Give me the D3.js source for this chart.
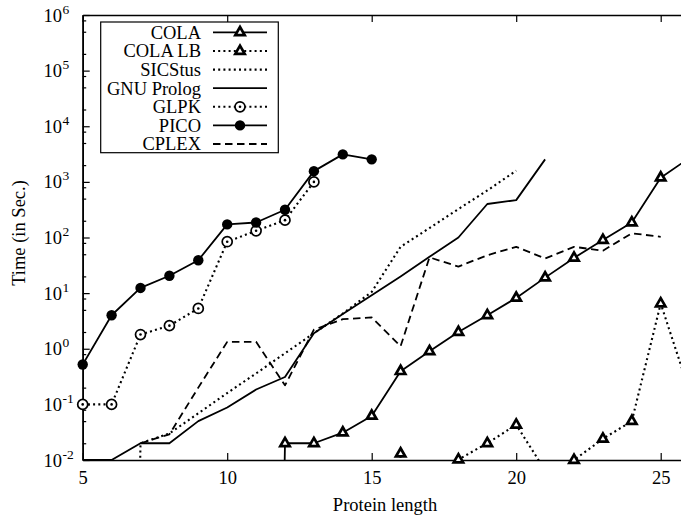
<!DOCTYPE html>
<html>
<head>
<meta charset="utf-8">
<script src="https://cdn.jsdelivr.net/npm/d3@7"></script>
<style>
  body { margin: 0; background: #fff; }
  text { font-family: "Liberation Serif", "Times New Roman", serif; fill: #000; }
</style>
</head>
<body>
<div id="graph"></div>
<script>

// data (0 = below the 0.01 floor)
var colaX      = [11, 12, 13, 14, 15, 16, 17, 18, 19, 20, 21, 22, 23, 24, 25, 26];
var colaY      = [0, 0.020, 0.020, 0.031, 0.062, 0.395, 0.9, 2.0, 4.0, 8.2, 19, 43, 90, 186, 1190, 2700];
var colaLbX    = [15, 16, 17, 18, 19, 20, 21, 22, 23, 24, 25, 26];
var colaLbY    = [0, 0.013, 0, 0.0102, 0.020, 0.043, 0.0065, 0.010, 0.024, 0.050, 6.5, 0.17];
var sicstusX   = [6, 7, 8, 9, 10, 11, 12, 13, 14, 15, 16, 17, 18, 19, 20];
var sicstusY   = [0, 0.02, 0.03, 0.069, 0.16, 0.36, 0.83, 1.9, 4.3, 10.5, 68, 148, 325, 700, 1590];
var gnuX       = [5, 6, 7, 8, 9, 10, 11, 12, 13, 14, 15, 16, 17, 18, 19, 20, 21];
var gnuY       = [0.01, 0.01, 0.02, 0.02, 0.05, 0.088, 0.185, 0.31, 1.9, 4.2, 9.2, 20, 45, 100, 400, 470, 2540];
var glpkX      = [5, 6, 7, 8, 9, 10, 11, 12, 13];
var glpkY      = [0.1, 0.1, 1.8, 2.6, 5.3, 84, 132, 205, 1000];
var picoX      = [5, 6, 7, 8, 9, 10, 11, 12, 13, 14, 15];
var picoY      = [0.52, 4.0, 12.4, 20.5, 39, 172, 186, 315, 1560, 3120, 2540];
var cplexX     = [7, 8, 9, 10, 11, 12, 13, 14, 15, 16, 17, 18, 19, 20, 21, 22, 23, 24, 25];
var cplexY     = [0.02, 0.029, 0.2, 1.33, 1.33, 0.22, 2.2, 3.4, 3.66, 1.11, 44, 30, 48, 68, 42, 68, 58, 119, 103];

var xTicks = [5, 10, 15, 20, 25];
var yExps  = [-2, -1, 0, 1, 2, 3, 4, 5, 6];
var yMinorMult = [2, 5, 8];

var width = 681, height = 518;
var pLeft = 82.7, pRight = 689.6, pTop = 15, pBottom = 460;

var x = d3.scaleLinear().domain([5, 26]).range([pLeft, pRight]);
var y = d3.scaleLog().domain([0.01, 1e6]).range([pBottom, pTop]);

var DOT = '2,3.2';

var series = [
  { name: 'COLA',       xs: colaX,    ys: colaY,    dash: null,      mark: 'tri' },
  { name: 'COLA LB',    xs: colaLbX,  ys: colaLbY,  dash: DOT,       mark: 'tri' },
  { name: 'SICStus',    xs: sicstusX, ys: sicstusY, dash: DOT,       mark: null },
  { name: 'GNU Prolog', xs: gnuX,     ys: gnuY,     dash: null,      mark: null },
  { name: 'GLPK',       xs: glpkX,    ys: glpkY,    dash: DOT,       mark: 'odot' },
  { name: 'PICO',       xs: picoX,    ys: picoY,    dash: null,      mark: 'dot' },
  { name: 'CPLEX',      xs: cplexX,   ys: cplexY,   dash: '7.5,4.5', mark: null }
];

var svg = d3.select('#graph').append('svg')
    .attr('width', width)
    .attr('height', height);

svg.append('defs').append('clipPath').attr('id', 'plotclip')
  .append('rect')
    .attr('x', pLeft).attr('y', pTop)
    .attr('width', pRight - pLeft).attr('height', pBottom - pTop);

// axes (ticks point inward)
var gx = svg.append('g')
    .attr('transform', 'translate(0,' + pBottom + ')')
    .call(d3.axisBottom(x).tickValues(xTicks).tickSize(-7).tickSizeOuter(0).tickPadding(11));
svg.append('g')
    .attr('transform', 'translate(0,' + pTop + ')')
    .call(d3.axisTop(x).tickValues(xTicks).tickSize(-7).tickSizeOuter(0).tickFormat(''));

var majors = yExps.map(function(e){ return Math.pow(10, e); });
var minors = [];
yExps.slice(0, -1).forEach(function(e){
  yMinorMult.forEach(function(m){ minors.push(m * Math.pow(10, e)); });
});

svg.append('g')
    .attr('transform', 'translate(' + pLeft + ',0)')
    .call(d3.axisLeft(y).tickValues(minors).tickSize(-3.5).tickSizeOuter(0).tickFormat(''));
svg.append('g')
    .attr('transform', 'translate(' + pLeft + ',0)')
    .call(d3.axisLeft(y).tickValues(majors).tickSize(-7).tickSizeOuter(0).tickFormat(''));

svg.selectAll('.domain').attr('stroke', '#000').attr('stroke-width', 1.6);
svg.selectAll('.tick line').attr('stroke', '#000').attr('stroke-width', 1.2);

gx.selectAll('.tick text')
    .style('font-family', '"Liberation Serif", serif')
    .style('font-size', '18.5px')
    .attr('fill', '#000');

// y labels as 10^n
yExps.forEach(function(e){
  var yy = y(Math.pow(10, e));
  svg.append('text')
      .attr('x', 62).attr('y', yy + 6.5)
      .attr('text-anchor', 'end')
      .style('font-size', '18.5px')
      .text('10');
  svg.append('text')
      .attr('x', 62.5).attr('y', yy - 1.5)
      .style('font-size', '13.5px')
      .text(String(e));
});

// axis titles
svg.append('text')
    .attr('x', 385).attr('y', 511)
    .attr('text-anchor', 'middle')
    .style('font-size', '18.5px')
    .text('Protein length');
svg.append('text')
    .attr('transform', 'translate(25,233) rotate(-90)')
    .attr('text-anchor', 'middle')
    .style('font-size', '18.5px')
    .text('Time (in Sec.)');

// lines
var line = d3.line()
    .x(function(d){ return x(d[0]); })
    .y(function(d){ return y(d[1] > 0 ? d[1] : 1e-30); });

var plot = svg.append('g').attr('clip-path', 'url(#plotclip)');

function drawMark(g, kind, cx, cy) {
  if (kind == 'tri') {
    g.append('path')
      .attr('d', 'M0,-5.4L4.7,2.8L-4.7,2.8Z')
      .attr('transform', 'translate(' + cx + ',' + cy + ')')
      .attr('fill', '#fff').attr('stroke', '#000').attr('stroke-width', 2.7)
      .attr('stroke-linejoin', 'miter');
  } else if (kind == 'odot') {
    g.append('circle').attr('cx', cx).attr('cy', cy).attr('r', 5)
      .attr('fill', '#fff').attr('stroke', '#000').attr('stroke-width', 1.7);
    g.append('circle').attr('cx', cx).attr('cy', cy).attr('r', 1.3).attr('fill', '#000');
  } else if (kind == 'dot') {
    g.append('circle').attr('cx', cx).attr('cy', cy).attr('r', 5.2).attr('fill', '#000');
  }
}

series.forEach(function(s){
  var pts = s.xs.map(function(v, i){ return [v, s.ys[i]]; });
  plot.append('path')
      .datum(pts)
      .attr('d', line)
      .attr('fill', 'none')
      .attr('stroke', '#000')
      .attr('stroke-width', s.dash == DOT ? 2.1 : 1.8)
      .attr('stroke-dasharray', s.dash)
      .attr('stroke-linejoin', 'round');
});

// markers on top; skip points below the floor
var marks = svg.append('g');
series.forEach(function(s){
  if (!s.mark) return;
  s.xs.forEach(function(v, i){
    var val = s.ys[i];
    if (val < 0.01 || v > 26) return;
    drawMark(marks, s.mark, x(v), y(val));
  });
});

// legend
var lg = svg.append('g');
lg.append('rect')
    .attr('x', 100.7).attr('y', 22)
    .attr('width', 177.6).attr('height', 130.7)
    .attr('fill', '#fff').attr('stroke', '#000').attr('stroke-width', 1.2);

series.forEach(function(s, i){
  var cy = 32.4 + i * 18.6;
  lg.append('text')
      .attr('x', 201).attr('y', cy + 6.3)
      .attr('text-anchor', 'end')
      .style('font-size', '18.5px')
      .text(s.name);
  lg.append('line')
      .attr('x1', 213).attr('x2', 267)
      .attr('y1', cy).attr('y2', cy)
      .attr('stroke', '#000')
      .attr('stroke-width', s.dash == DOT ? 2.1 : 1.8)
      .attr('stroke-dasharray', s.dash);
  if (s.mark) drawMark(lg, s.mark, 240, cy);
});

</script>
</body>
</html>
